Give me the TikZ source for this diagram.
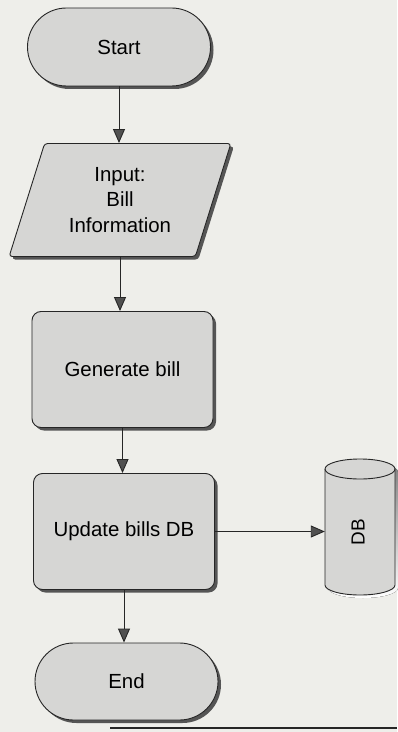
\documentclass[tikz,border=0pt]{standalone}
\usepackage{fontspec}
\setmainfont{Liberation Sans}
\usetikzlibrary{shapes.misc,shapes.geometric,shadows,arrows.meta}
\definecolor{paper}{RGB}{238,238,234}
\definecolor{boxfill}{RGB}{214,214,212}
\definecolor{shade}{RGB}{85,85,85}
\definecolor{tipfill}{RGB}{80,80,80}
\tikzset{
  flowbase/.style={draw=black!85, line width=0.9bp, fill=boxfill,
    font=\fontsize{20.5}{26}\selectfont, align=center,
    drop shadow={shadow xshift=3bp, shadow yshift=-3bp, fill=shade, opacity=1}},
  term/.style={flowbase, rounded rectangle, minimum width=183bp, minimum height=78bp, inner sep=0pt},
  iobox/.style={flowbase, trapezium, trapezium left angle=70, trapezium right angle=110,
    trapezium stretches=true, minimum width=222bp, minimum height=113bp, inner sep=0pt, rounded corners=3bp},
  procbox/.style={flowbase, rectangle, rounded corners=9bp, minimum width=181bp, minimum height=116bp, inner sep=0pt},
  flowarrow/.style={draw=black!85, line width=0.9bp, -{Triangle[width=12bp,length=14bp,fill=tipfill]}},
  cylline/.style={draw=black!85, line width=0.9bp}
}
\begin{document}
\begin{tikzpicture}[x=1bp,y=-1bp]
  \fill[paper] (0,0) rectangle (397,732);
  \useasboundingbox (0,0) rectangle (397,732);

  \node[term] (start) at (119,47) {Start};
  \node[iobox] (input) at (120,200) {Input:\\Bill\\Information};
  \node[procbox] (gen) at (122.5,369.5) {Generate bill};
  \node[procbox] (upd) at (124,531.5) {Update bills DB};
  \node[term, minimum height=77bp] (end) at (126.5,681.5) {End};

  % database cylinder (x 325..395, y 459..595)
  \node[minimum width=70bp, minimum height=136bp, inner sep=0pt] (db) at (360,527) {};
  \fill[shade] (328,472) arc[start angle=180, end angle=0, x radius=35bp, y radius=10bp]
     -- (398,588) arc[start angle=0, end angle=-180, x radius=35bp, y radius=10bp] -- cycle;
  \filldraw[cylline, fill=boxfill]
     (325,469) arc[start angle=180, end angle=0, x radius=35bp, y radius=10bp]
     -- (395,585) arc[start angle=0, end angle=-180, x radius=35bp, y radius=10bp] -- cycle;
  \draw[cylline] (325,469) arc[start angle=180, end angle=360, x radius=35bp, y radius=10bp];
  \node[rotate=90, font=\fontsize{19}{22}\selectfont] (dbtext) at (358,532) {DB};

  \draw[flowarrow] (start.south) -- (start.south |- input.north);
  \draw[flowarrow] (input.south) -- (input.south |- gen.north);
  \draw[flowarrow] (gen.south) -- (gen.south |- upd.north);
  \draw[flowarrow] (upd.east) -- (db.west |- upd.east);
  \draw[flowarrow] (upd.south) -- (upd.south |- end.north);

  \draw[black!85, line width=2bp] (110,728) -- (397,728);
\end{tikzpicture}
\end{document}
